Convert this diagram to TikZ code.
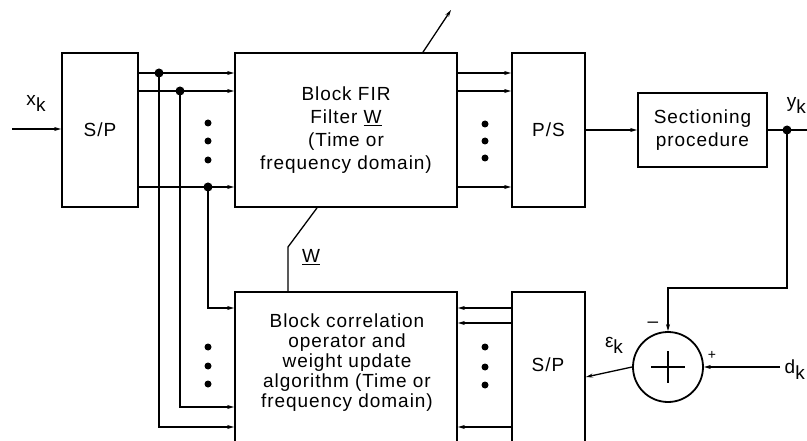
\documentclass[tikz,border=0pt]{standalone}
\usepackage{fontspec}
\setmainfont{Liberation Sans}[LetterSpace=5]
\usetikzlibrary{arrows.meta}
\newcommand{\lowk}{\raisebox{-6pt}{k}}

\begin{document}
\begin{tikzpicture}[x=1pt, y=-1pt,
    blk/.style={draw, line width=1.8pt, inner sep=0pt, align=center},
    sig/.style={line width=1.3pt, -{Stealth[length=7pt,width=4pt]}},
    wire/.style={line width=1.3pt},
    font=\fontsize{19}{23}\selectfont]
    \useasboundingbox (0,0) rectangle (807,441);
    \clip (0,0) rectangle (807,441);
    \node[blk, minimum width=76pt, minimum height=154pt] (sp1) at (100,130) {S/P};
    \node[blk, minimum width=222pt, minimum height=154pt] (fir) at (346,130) {Block FIR\\Filter \underline{W}\\(Time or\\frequency domain)};
    \node[blk, minimum width=73pt, minimum height=154pt] (ps) at (548.5,130) {P/S};
    \node[blk, minimum width=129pt, minimum height=74pt] (sec) at (702.5,130) {Sectioning\\procedure};
    \node[blk, minimum width=222pt, minimum height=170pt] (corr) at (346,377) {};
    \node[align=center, font=\fontsize{19}{20}\selectfont] (corrtxt) at (347,363) {Block correlation\\operator and\\weight update\\algorithm (Time or\\frequency domain)};
    \node[blk, minimum width=73pt, minimum height=170pt] (sp2) at (548.5,377) {};
    \node (sp2txt) at (548,365) {S/P};
    \node[draw, circle, line width=1.8pt, minimum size=70pt, inner sep=0pt] (sum) at (668,367) {};
    \draw[line width=1.3pt] (sum.center) +(-17,0) -- +(17,0) (sum.center) +(0,-16) -- +(0,16);
    \coordinate (xin) at (12,129);
    \coordinate (j1) at (159,73);
    \coordinate (j2) at (180,91);
    \coordinate (j3) at (208,187);
    \coordinate (r1) at (0,427);
    \coordinate (r2) at (0,407);
    \coordinate (r3) at (0,308);
    \coordinate (r4) at (0,323);
    \coordinate (jy) at (787,130);
    \coordinate (yend) at (807,130);
    \coordinate (fb) at (787,288);
    \coordinate (din) at (780,367);
    \coordinate (wt) at (317,0);
    \coordinate (wb) at (288,247);
    \coordinate (adjb) at (423,0);
    \coordinate (adj) at (451,10);
    \draw[sig] (xin) -- (xin -| sp1.west);
    \draw[sig] (sp1.east |- j1) -- (j1 -| fir.west);
    \draw[sig] (sp1.east |- j2) -- (j2 -| fir.west);
    \draw[sig] (sp1.east |- j3) -- (j3 -| fir.west);
    \draw[sig] (j1) |- (corr.west |- r1);
    \draw[sig] (j2) |- (corr.west |- r2);
    \draw[sig] (j3) |- (corr.west |- r3);
    \draw[sig] (fir.east |- j1) -- (ps.west |- j1);
    \draw[sig] (fir.east |- j2) -- (ps.west |- j2);
    \draw[sig] (fir.east |- j3) -- (ps.west |- j3);
    \draw[sig] (sp2.west |- r3) -- (corr.east |- r3);
    \draw[sig] (sp2.west |- r4) -- (corr.east |- r4);
    \draw[sig] (sp2.west |- r1) -- (corr.east |- r1);
    \draw[sig] (ps.east) -- (sec.west);
    \draw[wire] (sec.east) -- (yend);
    \draw[sig] (jy) -- (fb) -| (sum.north);
    \draw[sig] (din) -- (sum.east);
    \draw[sig] (sum.west) -- (sp2.east);
    \draw[wire] (fir.south -| wt) -- (wb) -- (corr.north -| wb);
    \draw[sig] (fir.north -| adjb) -- (adj);
    \foreach \p in {j1,j2,j3,jy} \fill (\p) circle (4.5pt);
    \foreach \x/\y in {208/123,208/141,208/160,485/124,485/141,485/158,208/347,208/366,208/384,485/347,485/367,485/385}
        \fill (\x,\y) circle (3.5pt);
    \node (xk) at (36,103) {x\lowk};
    \node (wlbl) at (311,257) {\underline{W}};
    \node (ek) at (614,345) {ε\lowk};
    \node (minus) at (653,325) {\textendash};
    \node[font=\fontsize{14}{14}\selectfont] (plus) at (712,355) {+};
    \node[anchor=east, inner sep=1pt] (yk) at (807,105) {y\lowk};
    \node[anchor=east, inner sep=1pt] (dk) at (806,370) {d\lowk};
\end{tikzpicture}
\end{document}
